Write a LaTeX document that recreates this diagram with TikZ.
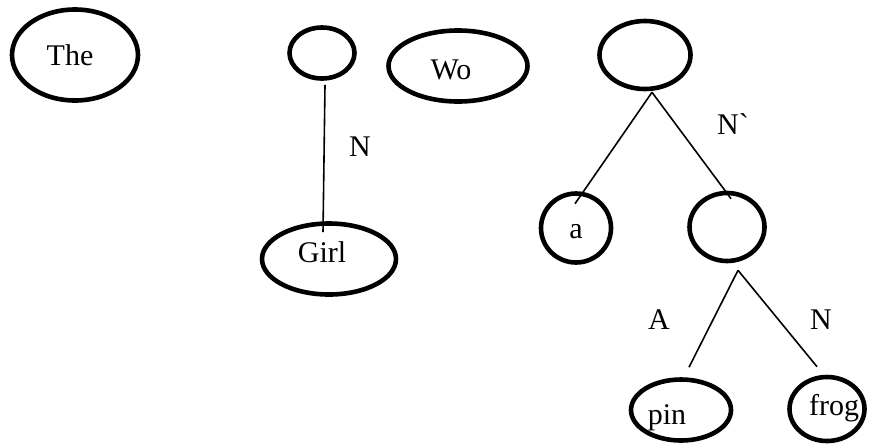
\documentclass[tikz,border=0pt]{standalone}
\usepackage{fontspec}
\setmainfont{Liberation Serif}
\newfontfamily\treefont{Liberation Serif}
\usetikzlibrary{shapes.geometric}
\tikzset{
  word/.style={draw, ellipse, line width=2.3pt, inner sep=0pt},
  branch/.style={line width=0.8pt},
}
\begin{document}
\begin{tikzpicture}[x=0.5pt, y=-0.5pt, font=\treefont\fontsize{15}{17}\selectfont]
	\useasboundingbox (0,0) rectangle (870,445);
	% words on the left
	\node[word, minimum width=63pt, minimum height=45.5pt, label={[xshift=-2.5pt]center:The}] (the) at (75,55) {};
	\node[word, minimum width=32.5pt, minimum height=25.5pt] (np) at (322,53) {};
	\node[word, minimum width=69.5pt, minimum height=35.5pt, label={[shift={(-3.5pt,-2pt)}]center:Wo}] (wo) at (458,66) {};
	\node[word, minimum width=67pt, minimum height=35.5pt, label={[shift={(-3.5pt,3.5pt)}]center:Girl}] (girl) at (329,259) {};
	\draw[branch] ([shift={(3,4)}]np.south) -- ([shift={(-6,11)}]girl.north);
	\node (n1) at (360,147) {N};
	% the tree on the right
	\node[word, minimum width=45.5pt, minimum height=34pt] (top) at (645,55) {};
	\node[word, minimum width=35pt, minimum height=34.5pt, label={[yshift=-2pt]center:a}] (a) at (576,228) {};
	\node[word, minimum width=37.5pt, minimum height=34pt] (mid) at (727,227) {};
	\node[word, minimum width=50pt, minimum height=30.5pt, label={[shift={(-7pt,-4pt)}]center:pin}] (pin) at (681,410) {};
	\node[word, minimum width=37.5pt, minimum height=32pt, label={[shift={(3.5pt,0.5pt)}]center:frog}] (frog) at (827,409) {};
	\draw[branch] ([shift={(7,1)}]top.south) -- ([shift={(-1,12.5)}]a.north);
	\draw[branch] ([shift={(7,1)}]top.south) -- ([shift={(4,8)}]mid.north);
	\draw[branch] ([shift={(11,7)}]mid.south) -- ([shift={(8,-10)}]pin.north);
	\draw[branch] ([shift={(11,7)}]mid.south) -- ([shift={(-10,-8)}]frog.north);
	\node (nbar) at (733,124) {N\textasciigrave};
	\node (adj) at (659,320) {A};
	\node (n2) at (821,320) {N};
\end{tikzpicture}
\end{document}
